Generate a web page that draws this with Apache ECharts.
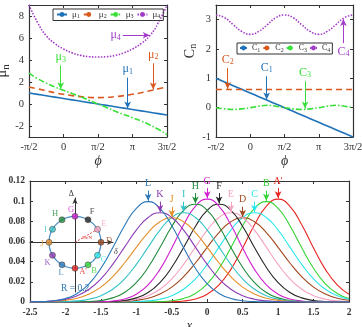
<!DOCTYPE html>
<html>
<head>
<meta charset="utf-8">
<script src="https://cdn.jsdelivr.net/npm/echarts@6/dist/echarts.min.js"></script>
<style>
html,body{margin:0;padding:0;background:#fff;}
#main{width:362px;height:327px;}
</style>
</head>
<body>
<div id="main"></div>
<script>
// phase, in units of pi
var phi = [-0.5,-0.375,-0.25,-0.125,0,0.125,0.25,0.375,0.5,0.625,0.75,0.875,1,1.125,1.25,1.375,1.5];

// chemical potentials
var mu1 = [1,0.875,0.75,0.625,0.5,0.375,0.25,0.125,0,-0.125,-0.25,-0.375,-0.5,-0.625,-0.75,-0.875,-1];
var mu2 = [1.55,1.38,1.2,1.02,0.88,0.76,0.67,0.6,0.58,0.6,0.67,0.76,0.88,1.02,1.2,1.38,1.55];
var mu3 = [2.8,2.3,1.9,1.55,1.25,0.95,0.65,0.32,0,-0.32,-0.65,-0.95,-1.25,-1.55,-1.9,-2.3,-2.8];
var mu4 = [9.0,7.4,6.2,5.5,5.0,4.65,4.42,4.3,4.27,4.3,4.42,4.65,5.0,5.5,6.2,7.4,9.0];

// Chern-like numbers
var c1 = [1,0.875,0.75,0.625,0.5,0.375,0.25,0.125,0,-0.125,-0.25,-0.375,-0.5,-0.625,-0.75,-0.875,-1];
var c2 = [0.62,0.62,0.62,0.62,0.62,0.62,0.62,0.62,0.62,0.62,0.62,0.62,0.62,0.62,0.62,0.62,0.62];
var c3 = [0,-0.04,-0.06,-0.04,0,0.05,0.08,0.05,0,-0.04,-0.06,-0.04,0,0.05,0.08,0.05,0];
var c4 = [3.16,3.07,2.83,2.6,2.5,2.6,2.83,3.07,3.16,3.07,2.83,2.6,2.5,2.6,2.83,3.07,3.16];

// distributions P(x)
var xs = [-2.5,-2.3333,-2.1667,-2,-1.8333,-1.6667,-1.5,-1.3333,-1.1667,-1,-0.8333,-0.6667,-0.5,-0.3333,-0.1667,0,0.1667,0.3333,0.5,0.6667,0.8333,1,1.1667,1.3333,1.5,1.6667,1.8333,2];
var pA = [0,0,0,0,0,0,0,0,0,0,0,0.0001,0.0003,0.001,0.003,0.0077,0.017,0.0324,0.0535,0.0766,0.0949,0.102,0.0949,0.0766,0.0535,0.0324,0.017,0.0077];
var pB = [0,0,0,0,0,0,0,0,0,0,0.0001,0.0004,0.0013,0.0035,0.0085,0.018,0.0334,0.0538,0.0757,0.0929,0.0995,0.0929,0.0757,0.0538,0.0334,0.018,0.0085,0.0035];
var pC = [0,0,0,0,0,0,0,0,0.0001,0.0004,0.0011,0.0028,0.0063,0.0127,0.0229,0.0373,0.0544,0.0713,0.0838,0.0885,0.0838,0.0713,0.0544,0.0373,0.0229,0.0127,0.0063,0.0028];
var pD = [0,0,0,0,0,0,0.0001,0.0002,0.0007,0.0017,0.0038,0.0079,0.0148,0.0251,0.0387,0.0542,0.0689,0.0796,0.0835,0.0796,0.0689,0.0542,0.0387,0.0251,0.0148,0.0079,0.0038,0.0017];
var pE = [0,0,0,0,0,0,0.0001,0.0004,0.0011,0.0028,0.0063,0.0127,0.0229,0.0373,0.0544,0.0713,0.0838,0.0885,0.0838,0.0713,0.0544,0.0373,0.0229,0.0127,0.0063,0.0028,0.0011,0.0004];
var pF = [0,0,0,0,0,0,0.0001,0.0005,0.0015,0.0041,0.0094,0.0192,0.0344,0.0541,0.0749,0.0909,0.097,0.0909,0.0749,0.0541,0.0344,0.0192,0.0094,0.0041,0.0015,0.0005,0.0001,0];
var pG = [0,0,0,0,0,0.0001,0.0003,0.001,0.003,0.0077,0.017,0.0324,0.0535,0.0766,0.0949,0.102,0.0949,0.0766,0.0535,0.0324,0.017,0.0077,0.003,0.001,0.0003,0.0001,0,0];
var pH = [0,0,0,0,0.0001,0.0005,0.0015,0.0041,0.0094,0.0192,0.0344,0.0541,0.0749,0.0909,0.097,0.0909,0.0749,0.0541,0.0344,0.0192,0.0094,0.0041,0.0015,0.0005,0.0001,0,0,0];
var pI = [0,0,0.0001,0.0004,0.0011,0.0028,0.0063,0.0127,0.0229,0.0373,0.0544,0.0713,0.0838,0.0885,0.0838,0.0713,0.0544,0.0373,0.0229,0.0127,0.0063,0.0028,0.0011,0.0004,0.0001,0,0,0];
var pJ = [0.0001,0.0002,0.0007,0.0017,0.0038,0.0079,0.0148,0.0251,0.0387,0.0542,0.0689,0.0796,0.0835,0.0796,0.0689,0.0542,0.0387,0.0251,0.0148,0.0079,0.0038,0.0017,0.0007,0.0002,0.0001,0,0,0];
var pK = [0.0001,0.0004,0.0011,0.0028,0.0063,0.0127,0.0229,0.0373,0.0544,0.0713,0.0838,0.0885,0.0838,0.0713,0.0544,0.0373,0.0229,0.0127,0.0063,0.0028,0.0011,0.0004,0.0001,0,0,0,0,0];
var pL = [0.0001,0.0004,0.0013,0.0035,0.0085,0.018,0.0334,0.0538,0.0757,0.0929,0.0995,0.0929,0.0757,0.0538,0.0334,0.018,0.0085,0.0035,0.0013,0.0004,0.0001,0,0,0,0,0,0,0];
var curveNames = ["A'",'B','C','D','E','F','G','H','I','J','K','L'];

// states on the ring (inset)
var ringR = 0.2;
var ptNames = ['D','E','F','G','H','I','J','K','L',"A'",'B','C'];
var ptAngle = [0,30,60,90,120,150,180,210,240,270,300,330];

var serif = "'Liberation Serif', 'DejaVu Serif', serif";
var blue = '#1f72b8', orange = '#d9581e', green = '#3ae03a', purple = '#a23cc8';
var curveColors = ['#e8251f','#35d335','#2ce6ec','#a0481e','#f5a3c3','#262626','#d21fcf','#1f8b3b','#34c3c6','#e58f2a','#8b3cb5','#2b77b8'];
var phiText = {'-0.5':'-π/2','0':'0','0.5':'π/2','1':'π','1.5':'3π/2'};

function pairs(xv, yv){
	var out = [];
	for(var i=0;i<xv.length;i++){
		out.push([xv[i], yv[i]]);
	}
	return out;
}

function sub(t){
	return '{m|'+t.charAt(0)+'}{s|'+t.slice(1)+'}';
}

function richStyle(fs, color){
	return {
		m:{fontSize:fs, color:color, fontFamily:serif},
		s:{fontSize:Math.round(fs*0.7), color:color, fontFamily:serif, verticalAlign:'bottom', padding:[Math.round(fs*0.45),0,0,0]}
	};
}

function arrow(from, to, text, color, fs, isSub){
	return {
		silent:true,
		symbol:['none','arrow'],
		symbolSize:[5,7],
		animation:false,
		lineStyle:{color:color, type:'solid', width:1},
		label:{
			show:true, position:'start', distance:2,
			formatter: function(){ return isSub ? sub(text) : text; },
			color:color, fontFamily:serif, fontSize:fs,
			rich: richStyle(fs, color)
		},
		emphasis:{disabled:true},
		data:[[{coord:from},{coord:to}]]
	};
}

function topLine(name, data, color, dash, ai, from, to){
	return {
		name:name, type:'line', xAxisIndex:ai, yAxisIndex:ai,
		data:pairs(phi, data), smooth:true, symbol:'none',
		lineStyle:{color:color, width:1.6, type:dash},
		itemStyle:{color:color},
		markLine: arrow(from, to, name, color, 12, true)
	};
}

function curve(k){
	var d = [pA,pB,pC,pD,pE,pF,pG,pH,pI,pJ,pK,pL][k];
	var best = 0;
	for(var i=1;i<d.length;i++){
		if(d[i] > d[best]) best = i;
	}
	return {
		name:curveNames[k], type:'line', xAxisIndex:4, yAxisIndex:4,
		data:pairs(xs, d), smooth:true, symbol:'none',
		lineStyle:{color:curveColors[k], width:1.1},
		itemStyle:{color:curveColors[k]},
		markLine: arrow([xs[best], d[best]+0.011], [xs[best], d[best]+0.0008], curveNames[k], curveColors[k], 10, false)
	};
}

function valAxis(grid, pos, min, max, ticks, labels, extra){
	var ax = {
		type:'value', gridIndex:grid, position:pos, min:min, max:max,
		axisLine:{show:true, onZero:false, lineStyle:{color:'#333', width:1.2}},
		axisTick:{show:true, inside:true, length:3, customValues:ticks, lineStyle:{color:'#333'}},
		axisLabel:{show:labels, customValues:ticks, fontFamily:serif, fontSize:10.5, color:'#333', margin:5},
		splitLine:{show:false}
	};
	for(var k in extra){ ax[k] = extra[k]; }
	return ax;
}

var phiTicks = [-0.5,0,0.5,1,1.5];
var phiFmt = function(v){ return phiText[String(v)]; };
var xTicks = [-2.5,-2,-1.5,-1,-0.5,0,0.5,1,1.5,2];
var pTicks = [0,0.02,0.04,0.06,0.08,0.1,0.12];

var xAxes = [
	valAxis(0,'bottom',-0.5,1.5,phiTicks,true,{name:'ϕ', nameLocation:'middle', nameGap:17, nameTextStyle:{fontFamily:serif, fontStyle:'italic', fontSize:14, color:'#333'}}),
	valAxis(0,'top',-0.5,1.5,phiTicks,false,{}),
	valAxis(1,'bottom',-0.5,1.5,phiTicks,true,{name:'ϕ', nameLocation:'middle', nameGap:17, nameTextStyle:{fontFamily:serif, fontStyle:'italic', fontSize:14, color:'#333'}}),
	valAxis(1,'top',-0.5,1.5,phiTicks,false,{}),
	valAxis(2,'bottom',-2.5,2,xTicks,true,{name:'x', nameLocation:'middle', nameGap:16, nameTextStyle:{fontFamily:serif, fontStyle:'italic', fontSize:13, color:'#333'}}),
	valAxis(2,'top',-2.5,2,xTicks,false,{}),
	{
		type:'value', gridIndex:3, min:-0.346, max:0.292,
		axisLine:{show:true, onZero:true, symbol:['none','arrow'], symbolSize:[4,6], lineStyle:{color:'#333', width:1}},
		axisTick:{show:false}, axisLabel:{show:false}, splitLine:{show:false},
		name:'δ', nameLocation:'end', nameGap:1,
		nameTextStyle:{fontFamily:serif, fontStyle:'italic', fontSize:8, color:'#333', verticalAlign:'top', padding:[6,0,0,0]}
	}
];
xAxes[0].axisLabel.formatter = phiFmt;
xAxes[2].axisLabel.formatter = phiFmt;
xAxes[4].axisLabel.fontWeight = 'bold';
xAxes[4].axisLabel.fontSize = 9.5;
xAxes[4].axisLabel.margin = 6;

var yAxes = [
	valAxis(0,'left',-3,9,[-2,0,2,4,6,8],true,{name:sub('μn'), nameLocation:'middle', nameGap:15, nameRotate:90, nameTextStyle:{rich:richStyle(15,'#333')}}),
	valAxis(0,'right',-3,9,[-2,0,2,4,6,8],false,{}),
	valAxis(1,'left',-1,3.5,[-1,0,1,2,3],true,{name:sub('Cn'), nameLocation:'middle', nameGap:17, nameRotate:90, nameTextStyle:{padding:[0,0,0,40], rich:richStyle(14,'#333')}}),
	valAxis(1,'right',-1,3.5,[-1,0,1,2,3],false,{}),
	valAxis(2,'left',0,0.12,pTicks,true,{name:'P(x)', nameLocation:'middle', nameGap:15, nameRotate:90, nameTextStyle:{fontFamily:serif, fontStyle:'italic', fontSize:13, color:'#333'}}),
	valAxis(2,'right',0,0.12,pTicks,false,{}),
	{
		type:'value', gridIndex:3, min:-0.382, max:0.341,
		axisLine:{show:true, onZero:true, symbol:['none','arrow'], symbolSize:[4,6], lineStyle:{color:'#333', width:1}},
		axisTick:{show:false}, axisLabel:{show:false}, splitLine:{show:false},
		name:'Δ', nameLocation:'end', nameGap:0,
		nameTextStyle:{fontFamily:serif, fontSize:8, color:'#333', align:'right', padding:[0,1,0,0]}
	}
];
yAxes[4].axisLabel.fontWeight = 'bold';
yAxes[4].axisLabel.fontSize = 9.5;

var series = [
	topLine('μ1', mu1, blue, 'solid', 0, [0.93,2.4], [0.93,-0.42]),
	topLine('μ2', mu2, orange, [6,4], 0, [1.3,3.7], [1.3,1.32]),
	topLine('μ3', mu3, green, [6,2,1.5,2], 0, [-0.04,3.5], [-0.04,1.35]),
	topLine('μ4', mu4, purple, [1.5,1.5], 0, [0.86,6.25], [1.25,6.25]),
	topLine('C1', c1, blue, 'solid', 2, [0.24,1.07], [0.24,0.28]),
	topLine('C2', c2, orange, [6,4], 2, [-0.33,1.35], [-0.33,0.64]),
	topLine('C3', c3, green, [6,2,1.5,2], 2, [0.8,0.9], [0.8,-0.03]),
	topLine('C4', c4, purple, [1.5,1.5], 2, [1.36,2.2], [1.36,3.02])
];
for(var k=0;k<curveNames.length;k++){
	series.push(curve(k));
}

// inset: ring of states
var labelOff = {D:[8,-2], E:[6,-6], F:[4,-8], G:[-4,-7], H:[-7,-6], I:[-7,0], J:[-7,1], K:[-5,7], L:[-1,8], "A'":[8,3], B:[6,6], C:[6,4]};
var ringData = [];
for(var j=0;j<ptNames.length;j++){
	var col = curveColors[curveNames.indexOf(ptNames[j])];
	ringData.push({
		value:[ringR, ptAngle[j]], name:ptNames[j],
		itemStyle:{color:col},
		label:{color:col, offset:labelOff[ptNames[j]]}
	});
}
series.push({
	type:'line', coordinateSystem:'polar', polarIndex:0,
	data:[[0, ptAngle[1]],[ringR, ptAngle[1]]], symbol:'none',
	lineStyle:{color:'#e8251f', width:0.8, type:[2,1.5]}, silent:true
});
series.push({
	type:'scatter', coordinateSystem:'polar', polarIndex:0, symbolSize:6,
	data:ringData, silent:true, z:5,
	itemStyle:{borderColor:'#333', borderWidth:0.6},
	label:{show:true, position:'inside', formatter:'{b}', fontFamily:serif, fontSize:8.5}
});

var chartDom = document.getElementById('main');
var myChart = echarts.init(chartDom);
var option = {
	animation:false,
	backgroundColor:'#fff',
	grid:[
		{left:29, top:5, width:138, height:132, outerBoundsMode:'none'},
		{left:216, top:5, width:137, height:132, outerBoundsMode:'none'},
		{left:30, top:181, width:319, height:121, outerBoundsMode:'none'},
		{left:30, top:198, width:83, height:94, outerBoundsMode:'none'}
	],
	legend:[
		{
			data:['μ1','μ2','μ3','μ4'], left:53, top:9,
			itemWidth:10, itemHeight:6, itemGap:3, padding:[1,3],
			borderColor:'#333', borderWidth:1, borderRadius:0,
			formatter:function(n){ return sub(n); },
			textStyle:{rich:richStyle(9,'#333')}, selectedMode:false
		},
		{
			data:['C1','C2','C3','C4'], left:237, top:43,
			itemWidth:7, itemHeight:6, itemGap:2, padding:[1,2],
			borderColor:'#333', borderWidth:1, borderRadius:0,
			formatter:function(n){ return sub(n); },
			textStyle:{rich:richStyle(8,'#333')}, selectedMode:false
		}
	],
	polar:{center:[75,242.3], radius:26},
	angleAxis:{
		type:'value', min:0, max:360, startAngle:0, clockwise:false,
		axisLine:{show:true, lineStyle:{color:'#4a8cc4', width:1.2}},
		axisTick:{show:false}, axisLabel:{show:false}, splitLine:{show:false}
	},
	radiusAxis:{
		type:'value', min:0, max:ringR,
		axisLine:{show:false}, axisTick:{show:false}, axisLabel:{show:false}, splitLine:{show:false}
	},
	xAxis:xAxes,
	yAxis:yAxes,
	graphic:[
		{type:'text', left:61, top:283, style:{text:'R = 0.2', fill:'#2b77b8', font:"9.5px 'Liberation Serif', serif"}},
		{type:'text', left:82, top:235, style:{text:'2π/N', fill:'#e8251f', font:"5px 'Liberation Serif', serif"}}
	],
	series:series
};

myChart.setOption(option);
</script>
</body>
</html>
